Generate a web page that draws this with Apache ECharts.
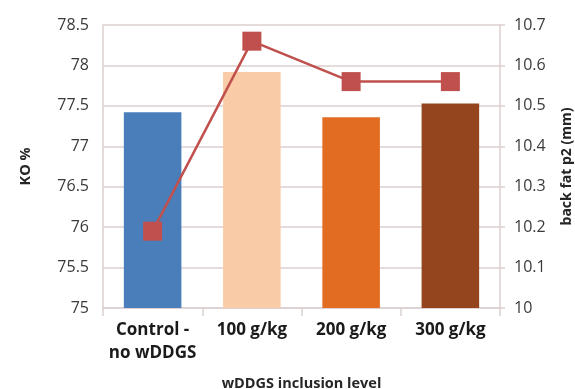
<!DOCTYPE html>
<html>
<head>
<meta charset="utf-8">
<script src="https://cdn.jsdelivr.net/npm/echarts@6/dist/echarts.min.js"></script>
<style>
  html, body { margin: 0; padding: 0; background: #ffffff; }
  #chart { width: 575px; height: 389px; }
</style>
</head>
<body>
<div id="chart"></div>
<script>
// Inclusion levels of wheat DDGS
const categories = ['Control -\nno wDDGS', '100 g/kg', '200 g/kg', '300 g/kg'];
// Killing-out percentage (bars, left axis)
const koValues = [77.42, 77.92, 77.36, 77.53];
// Back fat depth at P2 in mm (line, right axis)
const backFat = [10.19, 10.66, 10.56, 10.56];
const barColors = ['#4a7ebb', '#f9cba7', '#e36c23', '#95451d'];

const chart = echarts.init(document.getElementById('chart'));
const font = '"Open Sans", "Noto Sans", sans-serif';
const gridColor = '#dccfcf';

chart.setOption({
  animation: false,
  textStyle: { fontFamily: font },
  grid: { left: 103, right: 75, top: 25, bottom: 81, containLabel: false, outerBoundsMode: 'none' },
  xAxis: {
    type: 'category',
    data: categories,
    name: 'wDDGS inclusion level',
    nameLocation: 'middle',
    nameGap: 68,
    nameTextStyle: { fontSize: 14.5, fontWeight: 'bold', color: '#262626', fontFamily: font },
    axisLine: { lineStyle: { color: gridColor, width: 1.5 } },
    axisTick: { show: true, length: 8, lineStyle: { color: gridColor, width: 1.5 } },
    axisLabel: { interval: 0, fontSize: 17, fontWeight: 'bold', color: '#1a1a1a', margin: 11, lineHeight: 23, fontFamily: font }
  },
  yAxis: [
    {
      type: 'value',
      min: 75, max: 78.5, interval: 0.5,
      name: 'KO %',
      nameLocation: 'middle',
      nameGap: 70,
      nameRotate: 90,
      nameTextStyle: { fontSize: 14.5, fontWeight: 'bold', color: '#262626', fontFamily: font },
      axisLine: { show: true, lineStyle: { color: gridColor, width: 1.5 } },
      axisTick: { show: false },
      axisLabel: { fontSize: 16, color: '#3a3a3a', margin: 14, fontFamily: font },
      splitLine: { lineStyle: { color: gridColor, width: 1.5 } }
    },
    {
      type: 'value',
      min: 10, max: 10.7, interval: 0.1,
      name: 'back fat p2 (mm)',
      nameLocation: 'middle',
      nameGap: 60,
      nameRotate: 90,
      nameTextStyle: { fontSize: 14, fontWeight: 'bold', color: '#262626', fontFamily: font },
      axisLine: { show: true, lineStyle: { color: gridColor, width: 1.5 } },
      axisTick: { show: true, length: 5, lineStyle: { color: gridColor, width: 1.5 } },
      axisLabel: {
        fontSize: 16, color: '#3a3a3a', margin: 14, fontFamily: font,
        formatter: v => (Math.round(v * 10) / 10).toString()
      },
      splitLine: { show: false }
    }
  ],
  series: [
    {
      type: 'bar',
      yAxisIndex: 0,
      barWidth: '58%',
      data: koValues.map((v, i) => ({ value: v, itemStyle: { color: barColors[i] } }))
    },
    {
      type: 'line',
      yAxisIndex: 1,
      data: backFat,
      symbol: 'rect',
      symbolSize: 19,
      itemStyle: { color: '#c0504d' },
      lineStyle: { color: '#c0504d', width: 2.5 }
    }
  ]
});
</script>
</body>
</html>
